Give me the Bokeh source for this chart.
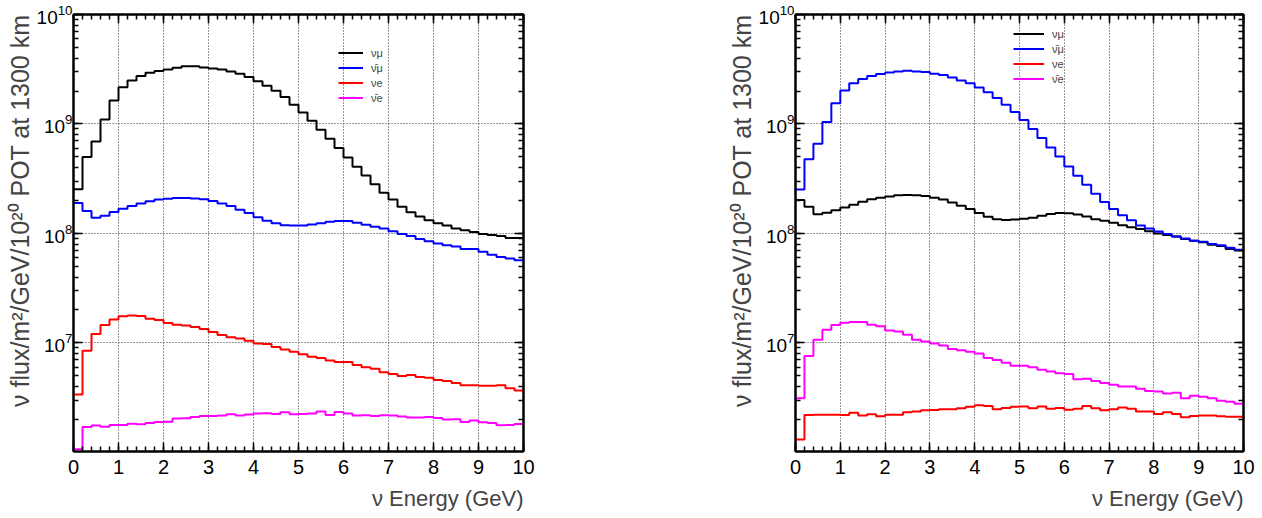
import numpy as np
from bokeh.plotting import figure
from bokeh.models import (LinearAxis, LogAxis, Title, Legend, LegendItem, Range1d,
                          SingleIntervalTicker, LogTicker)
from bokeh.layouts import row
from bokeh.embed import file_html
from bokeh.resources import INLINE

# Energy bin edges (GeV), 0.2 GeV bins
bin_edges = np.linspace(0.0, 10.0, 51)

# ---- Left panel (neutrino mode) ----
fhc_numu = [2.53e8, 5.0e8, 6.93e8, 1.10e9, 1.64e9, 2.17e9, 2.50e9, 2.74e9, 2.94e9, 3.04e9,
            3.15e9, 3.26e9, 3.36e9, 3.36e9, 3.28e9, 3.22e9, 3.15e9, 3.02e9, 2.88e9, 2.68e9,
            2.46e9, 2.23e9, 2.01e9, 1.76e9, 1.50e9, 1.27e9, 1.07e9, 8.87e8, 7.33e8, 6.02e8,
            4.95e8, 4.06e8, 3.38e8, 2.82e8, 2.35e8, 2.04e8, 1.75e8, 1.56e8, 1.43e8, 1.32e8,
            1.24e8, 1.18e8, 1.11e8, 1.07e8, 1.03e8, 9.9e7, 9.7e7, 9.5e7, 9.1e7, 9.1e7]
fhc_numubar = [1.90e8, 1.60e8, 1.39e8, 1.45e8, 1.57e8, 1.68e8, 1.78e8, 1.88e8, 1.97e8, 2.04e8,
               2.08e8, 2.11e8, 2.11e8, 2.09e8, 2.05e8, 1.98e8, 1.88e8, 1.78e8, 1.65e8, 1.54e8,
               1.41e8, 1.31e8, 1.24e8, 1.19e8, 1.18e8, 1.18e8, 1.21e8, 1.24e8, 1.28e8, 1.30e8,
               1.30e8, 1.25e8, 1.20e8, 1.15e8, 1.11e8, 1.05e8, 9.9e7, 9.5e7, 8.9e7, 8.5e7,
               8.1e7, 7.8e7, 7.6e7, 7.2e7, 7.2e7, 6.8e7, 6.4e7, 6.1e7, 5.9e7, 5.7e7]
fhc_nue = [3.38e6, 8.5e6, 1.21e7, 1.46e7, 1.64e7, 1.75e7, 1.78e7, 1.76e7, 1.66e7, 1.62e7,
           1.52e7, 1.47e7, 1.44e7, 1.40e7, 1.34e7, 1.26e7, 1.18e7, 1.13e7, 1.10e7, 1.05e7,
           9.9e6, 9.8e6, 9.2e6, 8.7e6, 8.3e6, 7.9e6, 7.5e6, 7.3e6, 6.9e6, 6.7e6,
           6.7e6, 6.3e6, 6.0e6, 5.8e6, 5.4e6, 5.2e6, 5.0e6, 5.1e6, 4.9e6, 4.8e6,
           4.6e6, 4.5e6, 4.3e6, 4.1e6, 4.1e6, 4.06e6, 4.06e6, 4.1e6, 3.86e6, 3.68e6]
fhc_nuebar = [1.07e6, 1.71e6, 1.76e6, 1.72e6, 1.78e6, 1.78e6, 1.83e6, 1.81e6, 1.86e6, 1.90e6,
              1.91e6, 2.04e6, 2.05e6, 2.11e6, 2.15e6, 2.15e6, 2.17e6, 2.23e6, 2.17e6, 2.22e6,
              2.27e6, 2.28e6, 2.25e6, 2.33e6, 2.23e6, 2.25e6, 2.27e6, 2.36e6, 2.20e6, 2.34e6,
              2.27e6, 2.17e6, 2.19e6, 2.15e6, 2.19e6, 2.17e6, 2.13e6, 2.08e6, 2.08e6, 2.11e6,
              2.06e6, 2.00e6, 2.01e6, 1.90e6, 1.96e6, 1.89e6, 1.86e6, 1.77e6, 1.78e6, 1.82e6]

# ---- Right panel (antineutrino mode) ----
rhc_numu = [2.02e8, 1.75e8, 1.50e8, 1.55e8, 1.63e8, 1.73e8, 1.83e8, 1.95e8, 2.05e8, 2.12e8,
            2.18e8, 2.23e8, 2.24e8, 2.23e8, 2.20e8, 2.12e8, 2.04e8, 1.92e8, 1.79e8, 1.67e8,
            1.54e8, 1.42e8, 1.35e8, 1.33e8, 1.34e8, 1.36e8, 1.39e8, 1.45e8, 1.51e8, 1.54e8,
            1.53e8, 1.49e8, 1.43e8, 1.35e8, 1.31e8, 1.25e8, 1.19e8, 1.14e8, 1.10e8, 1.05e8,
            1.00e8, 9.7e7, 9.4e7, 8.9e7, 8.6e7, 8.3e7, 7.9e7, 7.7e7, 7.2e7, 7.0e7]
rhc_numubar = [2.52e8, 4.77e8, 6.61e8, 1.04e9, 1.55e9, 2.02e9, 2.36e9, 2.57e9, 2.74e9, 2.86e9,
               2.96e9, 3.02e9, 3.06e9, 3.02e9, 2.98e9, 2.88e9, 2.80e9, 2.66e9, 2.50e9, 2.36e9,
               2.15e9, 1.95e9, 1.73e9, 1.50e9, 1.29e9, 1.09e9, 9.0e8, 7.44e8, 6.11e8, 5.05e8,
               4.09e8, 3.36e8, 2.78e8, 2.31e8, 1.94e8, 1.67e8, 1.47e8, 1.32e8, 1.18e8, 1.11e8,
               1.04e8, 9.9e7, 9.4e7, 9.0e7, 8.6e7, 8.4e7, 8.0e7, 7.8e7, 7.4e7, 7.1e7]
rhc_nue = [1.31e6, 2.20e6, 2.21e6, 2.21e6, 2.21e6, 2.20e6, 2.30e6, 2.18e6, 2.23e6, 2.14e6,
           2.21e6, 2.21e6, 2.33e6, 2.36e6, 2.43e6, 2.44e6, 2.48e6, 2.48e6, 2.53e6, 2.61e6,
           2.70e6, 2.65e6, 2.48e6, 2.55e6, 2.61e6, 2.63e6, 2.53e6, 2.63e6, 2.51e6, 2.55e6,
           2.46e6, 2.51e6, 2.65e6, 2.53e6, 2.43e6, 2.48e6, 2.58e6, 2.50e6, 2.36e6, 2.36e6,
           2.25e6, 2.33e6, 2.25e6, 2.10e6, 2.15e6, 2.18e6, 2.17e6, 2.14e6, 2.12e6, 2.12e6]
rhc_nuebar = [3.13e6, 7.6e6, 1.07e7, 1.32e7, 1.46e7, 1.53e7, 1.55e7, 1.55e7, 1.47e7, 1.42e7,
              1.30e7, 1.27e7, 1.19e7, 1.07e7, 1.03e7, 9.9e6, 9.5e6, 8.8e6, 8.6e6, 8.3e6,
              8.0e6, 7.3e6, 7.0e6, 6.6e6, 6.2e6, 6.2e6, 6.0e6, 5.7e6, 5.5e6, 5.3e6,
              5.2e6, 4.65e6, 4.7e6, 4.5e6, 4.3e6, 4.15e6, 4.0e6, 4.0e6, 3.81e6, 3.65e6,
              3.6e6, 3.45e6, 3.5e6, 3.13e6, 3.29e6, 3.22e6, 3.13e6, 2.96e6, 2.90e6, 2.79e6]

series_labels = ["ν\u03bc", "ν\u0304\u03bc", "νe", "ν\u0304e"]
series_colors = ["#000000", "#0000ff", "#ff0000", "#ff00ff"]

y_title = "ν flux/m²/GeV/10²⁰ POT at 1300 km"
x_title = "ν Energy (GeV)"
FONT = "Liberation Sans"


def make_panel(series, min_left, frame_w, min_right, legend_loc, glyph_w):
    p = figure(frame_width=frame_w, frame_height=437, y_axis_type="log",
               x_range=Range1d(0, 10), y_range=Range1d(1.02e6, 1e10),
               output_backend="svg", toolbar_location=None,
               min_border_left=min_left, min_border_right=min_right,
               min_border_top=14, min_border_bottom=10,
               background_fill_color="white", border_fill_color="white")
    p.outline_line_color = "black"
    p.outline_line_width = 2

    xt = SingleIntervalTicker(interval=1, num_minor_ticks=5)
    yt = LogTicker(num_minor_ticks=10)
    p.xaxis.ticker = xt
    p.yaxis.ticker = yt
    p.xgrid.ticker = xt
    p.ygrid.ticker = yt
    for g in (p.xgrid, p.ygrid):
        g.grid_line_color = "#333333"
        g.grid_line_dash = "1 2"
        g.grid_line_width = 1

    for ax in (p.xaxis, p.yaxis):
        ax.major_tick_in = 9
        ax.major_tick_out = 0
        ax.minor_tick_in = 5
        ax.minor_tick_out = 0
        ax.axis_line_width = 2
        ax.major_tick_line_width = 1.5
        ax.minor_tick_line_width = 1.5
        ax.major_label_text_font = FONT
        ax.major_label_text_color = "black"
    p.xaxis.major_label_text_font_size = "20px"
    p.yaxis.major_label_text_font_size = "19px"
    p.xaxis.major_label_standoff = 8
    p.yaxis.major_label_standoff = 1

    common = dict(major_tick_in=9, major_tick_out=0, minor_tick_in=5, minor_tick_out=0,
                  axis_line_width=2, major_label_text_font_size="1px",
                  major_label_text_color=None, major_label_standoff=0,
                  major_tick_line_width=1.5, minor_tick_line_width=1.5)
    top = LinearAxis(ticker=xt, **common)
    right = LogAxis(ticker=yt, **common)
    p.add_layout(top, "above")
    p.add_layout(right, "right")

    items = []
    for vals, lab, col in zip(series, series_labels, series_colors):
        yv = list(vals) + [vals[-1]]
        r = p.step(x=bin_edges, y=yv, mode="after", line_width=2, line_color=col)
        items.append(LegendItem(label=lab, renderers=[r]))

    leg = Legend(items=items, location=legend_loc, padding=0, spacing=0, margin=0,
                 label_height=15, glyph_height=15, glyph_width=glyph_w,
                 label_text_font=FONT, label_text_font_size="11px", label_standoff=8,
                 background_fill_alpha=0, border_line_alpha=0)
    p.add_layout(leg)

    p.add_layout(Title(text=x_title, align="right", text_font=FONT, text_font_size="22px",
                       text_font_style="normal", standoff=14), "below")
    p.add_layout(Title(text=y_title, align="right", text_font=FONT, text_font_size="25px",
                       text_font_style="normal", standoff=0), "left")
    return p


left = make_panel([fhc_numu, fhc_numubar, fhc_nue, fhc_nuebar], 73, 450, 108, (265, 346), 25)
right_p = make_panel([rhc_numu, rhc_numubar, rhc_nue, rhc_nuebar], 164, 448, 19, (218, 365), 31)

layout = row(left, right_p, spacing=0)
open("out.html", "w").write(file_html(layout, INLINE))
